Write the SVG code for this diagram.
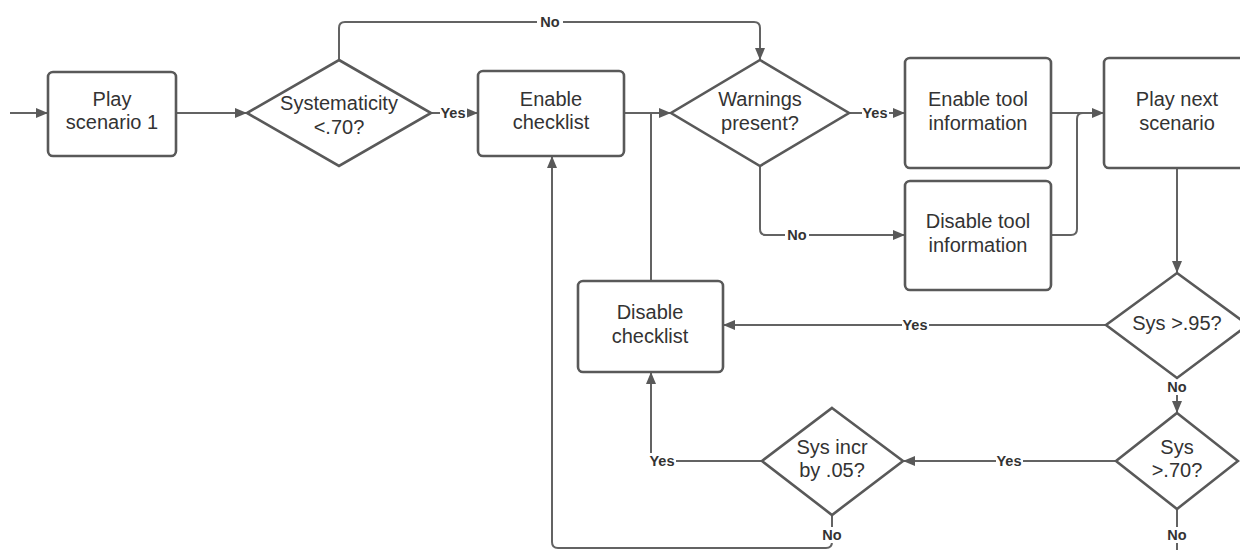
<svg xmlns="http://www.w3.org/2000/svg" width="1240" height="550" viewBox="0 0 1240 550">
<defs>
<marker id="ah" markerUnits="userSpaceOnUse" markerWidth="13" markerHeight="11" refX="12" refY="5" orient="auto">
<path d="M0,0 L12,5 L0,10 z" fill="#595959"/>
</marker>
<style>
.box{fill:#fff;stroke:#595959;stroke-width:2.6}
.t{font-family:"Liberation Sans",Arial,sans-serif;font-size:20px;fill:#333;text-anchor:middle}
.c{fill:none;stroke:#636363;stroke-width:2}
.a{marker-end:url(#ah)}
.lb{font-family:"Liberation Sans",Arial,sans-serif;font-size:14.5px;font-weight:bold;fill:#333;text-anchor:middle}
.bg{fill:#fff}
</style>
</defs>
<rect width="1240" height="550" fill="#fff"/>
<g id="connectors">
<path class="c a" d="M10,113 H48"/>
<path class="c a" d="M176,113 H247"/>
<path class="c a" d="M431,113 H478"/>
<path class="c a" d="M339,60 V28 Q339,22 345,22 H754 Q760,22 760,28 V60"/>
<path class="c a" d="M624,113 H671"/>
<path class="c" d="M651,281 V113"/>
<path class="c a" d="M849,113 H905"/>
<path class="c a" d="M760,166 V229 Q760,235 766,235 H905"/>
<path class="c a" d="M1051,113 H1104"/>
<path class="c" d="M1051,235 H1071 Q1077,235 1077,229 V119 Q1077,113 1083,113"/>
<path class="c a" d="M1177,168 V273"/>
<path class="c a" d="M1106,325 H723"/>
<path class="c a" d="M1177,378 V413"/>
<path class="c a" d="M1116,461 H903"/>
<path class="c" d="M1177,509 V556"/>
<path class="c a" d="M762,461 H651 V372"/>
<path class="c a" d="M832,515 V542 Q832,548 826,548 H558 Q552,548 552,542 V156"/>
<rect class="bg" x="537" y="14" width="26" height="16"/><text class="lb" x="550" y="27">No</text>
<rect class="bg" x="440" y="105" width="27" height="16"/><text class="lb" x="453" y="118">Yes</text>
<rect class="bg" x="862" y="105" width="27" height="16"/><text class="lb" x="875" y="118">Yes</text>
<rect class="bg" x="785" y="227" width="24" height="16"/><text class="lb" x="797" y="240">No</text>
<rect class="bg" x="902" y="317" width="27" height="16"/><text class="lb" x="915" y="330">Yes</text>
<rect class="bg" x="1165" y="379" width="24" height="16"/><text class="lb" x="1177" y="392">No</text>
<rect class="bg" x="996" y="453" width="27" height="16"/><text class="lb" x="1009" y="466">Yes</text>
<rect class="bg" x="648" y="453" width="28" height="16"/><text class="lb" x="662" y="466">Yes</text>
<rect class="bg" x="820" y="527" width="24" height="16"/><text class="lb" x="832" y="540">No</text>
<rect class="bg" x="1165" y="527" width="24" height="16"/><text class="lb" x="1177" y="540">No</text>
</g>
<g id="play1">
<rect class="box" x="48" y="72" width="128" height="84" rx="5"/>
<text class="t" x="112" y="106">Play</text>
<text class="t" x="112" y="129">scenario 1</text>
</g>
<g id="systematicity">
<polygon class="box" points="339,60 431,113 339,166 247,113"/>
<text class="t" x="339" y="110">Systematicity</text>
<text class="t" x="339" y="134">&lt;.70?</text>
</g>
<g id="enable-checklist">
<rect class="box" x="478" y="71" width="146" height="85" rx="5"/>
<text class="t" x="551" y="106">Enable</text>
<text class="t" x="551" y="129">checklist</text>
</g>
<g id="warnings">
<polygon class="box" points="760,60 849,113 760,166 671,113"/>
<text class="t" x="760" y="106">Warnings</text>
<text class="t" x="760" y="130">present?</text>
</g>
<g id="enable-tool">
<rect class="box" x="905" y="58" width="146" height="110" rx="5"/>
<text class="t" x="978" y="106">Enable tool</text>
<text class="t" x="978" y="130">information</text>
</g>
<g id="disable-tool">
<rect class="box" x="905" y="181" width="146" height="109" rx="5"/>
<text class="t" x="978" y="228">Disable tool</text>
<text class="t" x="978" y="252">information</text>
</g>
<g id="play-next">
<rect class="box" x="1104" y="58" width="146" height="110" rx="5"/>
<text class="t" x="1177" y="106">Play next</text>
<text class="t" x="1177" y="130">scenario</text>
</g>
<g id="sys95">
<polygon class="box" points="1177,273 1248,325 1177,378 1106,325"/>
<text class="t" x="1177" y="330">Sys &gt;.95?</text>
</g>
<g id="sys70">
<polygon class="box" points="1177,413 1238,461 1177,509 1116,461"/>
<text class="t" x="1177" y="454">Sys</text>
<text class="t" x="1177" y="477">&gt;.70?</text>
</g>
<g id="sys-incr">
<polygon class="box" points="832,408 903,461 832,515 762,461"/>
<text class="t" x="832" y="454">Sys incr</text>
<text class="t" x="832" y="477">by .05?</text>
</g>
<g id="disable-checklist">
<rect class="box" x="578" y="281" width="145" height="91" rx="5"/>
<text class="t" x="650" y="319">Disable</text>
<text class="t" x="650" y="343">checklist</text>
</g>
</svg>
